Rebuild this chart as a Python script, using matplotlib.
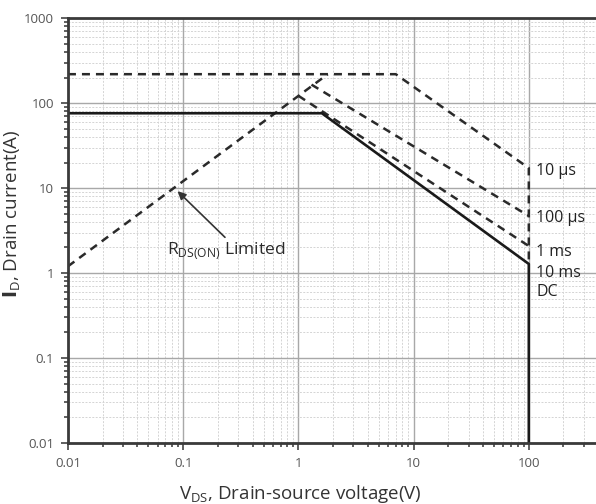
import numpy as np
import matplotlib.pyplot as plt
from matplotlib.ticker import LogLocator, FixedLocator, NullFormatter

plt.rcParams['font.family'] = ['Open Sans', 'DejaVu Sans']

# Safe operating area curves (V_DS in volts, I_D in amps)
rds_v = [0.01, 1.8]
rds_i = [1.2, 219]

us10_v = [0.01, 7.0, 100, 100]
us10_i = [219, 219, 17.2, 1.28]

us100_v = [1.3, 100]
us100_i = [165, 4.7]

ms1_v = [1.0, 100]
ms1_i = [122, 2.08]

dc_v = [0.01, 1.6, 100, 100]
dc_i = [76, 76, 1.28, 0.01]

curve_labels = ['10 µs', '100 µs', '1 ms', '10 ms', 'DC']
label_y = [15.8, 4.4, 1.77, 1.0, 0.6]

x_ticks = [0.01, 0.1, 1, 10, 100]
x_ticklabels = ['0.01', '0.1', '1', '10', '100']
y_ticks = [0.01, 0.1, 1, 10, 100, 1000]
y_ticklabels = ['0.01', '0.1', '1', '10', '100', '1000']

fig = plt.figure(figsize=(5.96, 5.04), dpi=100)
ax = fig.add_axes([0.114, 0.121, 0.886, 0.843])
ax.set_xscale('log')
ax.set_yscale('log')
ax.set_xlim(0.01, 383)
ax.set_ylim(0.01, 1000)

dash = (0, (3.2, 2.4))
ax.plot(rds_v, rds_i, color='#2a2a2a', lw=1.8, linestyle=dash)
ax.plot(us10_v, us10_i, color='#2a2a2a', lw=1.8, linestyle=dash)
ax.plot(us100_v, us100_i, color='#2a2a2a', lw=1.8, linestyle=dash)
ax.plot(ms1_v, ms1_i, color='#2a2a2a', lw=1.8, linestyle=dash)
ax.plot(dc_v, dc_i, color='#1a1a1a', lw=1.9)

for txt, yy in zip(curve_labels, label_y):
    ax.text(116, yy, txt, fontsize=11.5, color='#222222', ha='left', va='center')

ax.annotate('', xy=(0.086, 9.7), xytext=(0.24, 2.5),
            arrowprops=dict(arrowstyle='-|>', color='#333333', lw=1.2,
                            mutation_scale=12))
ax.text(0.072, 1.86, r'R$_\mathregular{DS(ON)}$ Limited', fontsize=12.5,
        color='#2a2a2a', ha='left', va='center')

# grid
ax.xaxis.set_major_locator(FixedLocator(x_ticks))
ax.yaxis.set_major_locator(FixedLocator(y_ticks))
ax.xaxis.set_minor_locator(LogLocator(base=10, subs=np.arange(2, 10), numticks=20))
ax.yaxis.set_minor_locator(LogLocator(base=10, subs=np.arange(2, 10), numticks=20))
ax.xaxis.set_minor_formatter(NullFormatter())
ax.yaxis.set_minor_formatter(NullFormatter())
ax.set_xticklabels(x_ticklabels)
ax.set_yticklabels(y_ticklabels)
ax.grid(which='major', color='#a8a8a8', lw=1.0)
ax.grid(which='minor', color='#d4d4d4', lw=0.7, linestyle=(0, (2, 1.5)))
ax.set_axisbelow(True)

ax.tick_params(which='both', direction='out', colors='#444444',
               labelcolor='#555555', labelsize=9.5, width=1.2)
ax.tick_params(which='major', length=5, pad=5)
ax.tick_params(which='minor', length=3)

for side in ['left', 'bottom', 'top']:
    ax.spines[side].set_color('#3a3a3a')
    ax.spines[side].set_linewidth(2)
ax.spines['right'].set_visible(False)

ax.set_xlabel(r'V$_\mathregular{DS}$, Drain-source voltage(V)', fontsize=13.5,
              color='#333333')
ax.xaxis.set_label_coords(0.44, -0.095)
ax.set_ylabel(r'$\mathbf{I}_\mathregular{D}$, Drain current(A)', fontsize=13.5,
              color='#333333')
ax.yaxis.set_label_coords(-0.085, 0.54)

fig.savefig('out.png', dpi=100)
